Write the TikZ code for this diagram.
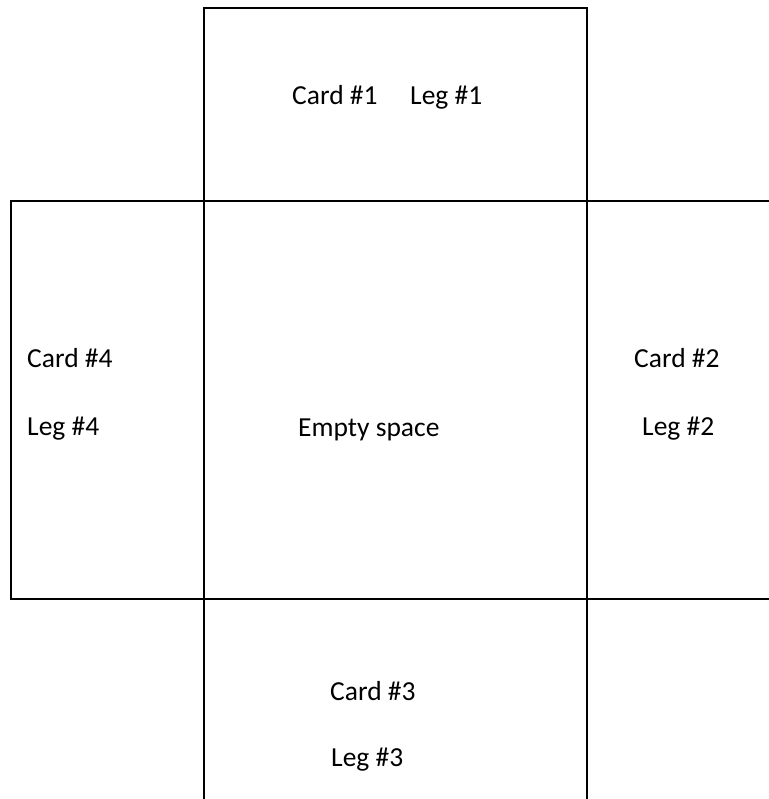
\documentclass[tikz,border=0pt]{standalone}
\usepackage{fontspec}
\setmainfont{Carlito}
\begin{document}
\begin{tikzpicture}[x=1pt,y=-1pt,
  edge/.style={line width=2pt,line cap=rect},
  lbl/.style={anchor=base west,inner sep=0pt,font=\fontsize{27.5}{33}\selectfont}]
\useasboundingbox (0,0) rectangle (768,799);
% outlines
\draw[edge] (204,799) -- (204,8) -- (587,8) -- (587,799);
\draw[edge] (11,201) -- (768,201);
\draw[edge] (11,599) -- (768,599);
\draw[edge] (11,201) -- (11,599);
% labels
\node[lbl] (c1) at (292,105) {Card \#1};
\node[lbl] (l1) at (410,105) {Leg \#1};
\node[lbl] (c4) at (27,367) {Card \#4};
\node[lbl] (l4) at (27,435) {Leg \#4};
\node[lbl] (c2) at (634,367) {Card \#2};
\node[lbl] (l2) at (642,435) {Leg \#2};
\node[lbl] (es) at (298,436) {Empty space};
\node[lbl] (c3) at (330,700) {Card \#3};
\node[lbl] (l3) at (331,766) {Leg \#3};
\end{tikzpicture}
\end{document}
